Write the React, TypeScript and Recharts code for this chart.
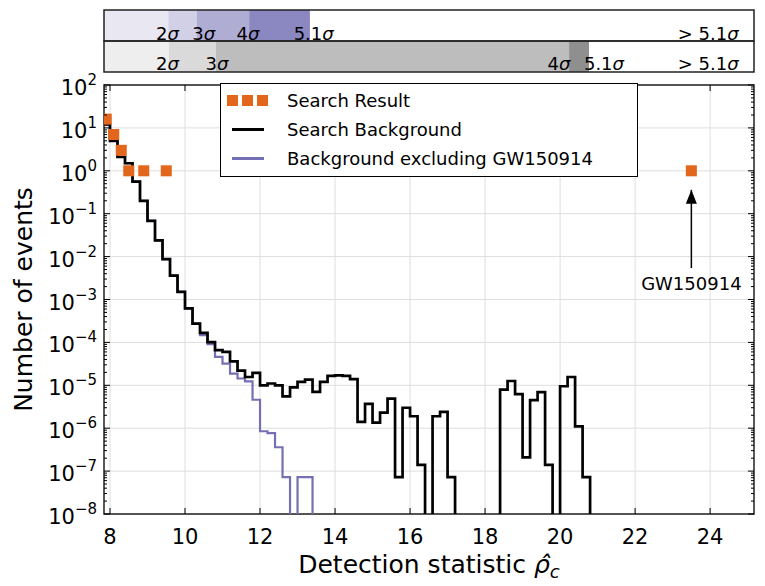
import {
  CartesianGrid,
  ComposedChart,
  Legend,
  Line,
  ReferenceArea,
  ReferenceDot,
  ReferenceLine,
  Scatter,
  XAxis,
  YAxis,
} from "recharts";

const FONT = "'DejaVu Sans', sans-serif";

const X_MIN = 7.84;
const X_MAX = 25.17;
const Y_MIN = 1e-8;
const Y_MAX = 1e2;

// histogram bins: width 0.2, first bin starts at 7.8; 0 = empty bin
const BIN_START = 7.8;
const BIN_WIDTH = 0.2;
const BELOW_AXIS = 1e-12;

const searchBackground = [
  12, 5, 2.1, 1.5, 0.56, 0.2, 0.068, 0.024, 0.0087, 0.0036,
  0.0015, 6.2e-4, 2.75e-4, 1.66e-4, 1.02e-4, 6.6e-5, 6.0e-5, 3.6e-5, 2.2e-5, 1.56e-5,
  1.94e-5, 1.0e-5, 1.1e-5, 1.0e-5, 5.5e-6, 8.9e-6, 1.2e-5, 1.35e-5, 7e-6, 1.2e-5,
  1.65e-5, 1.7e-5, 1.65e-5, 1.4e-5, 1.4e-6, 3.7e-6, 1.35e-6, 2.3e-6, 4.9e-6, 7.2e-8,
  3.0e-6, 1.9e-6, 1.4e-7, 0, 1.9e-6, 2.4e-6, 7.2e-8, 0, 0, 0,
  0, 0, 0, 7.9e-6, 1.26e-5, 6.2e-6, 2.1e-7, 4.5e-6, 6.9e-6, 1.4e-7,
  0, 9.5e-6, 1.56e-5, 1.1e-6, 7.2e-8,
];

const backgroundNoGW = [
  12, 5, 2.1, 1.5, 0.56, 0.2, 0.068, 0.024, 0.0087, 0.0036,
  0.0015, 6.2e-4, 2.75e-4, 1.48e-4, 9.1e-5, 4.6e-5, 3.2e-5, 1.87e-5, 1.44e-5, 1.23e-5,
  4.6e-6, 8.5e-7, 7.7e-7, 3.6e-7, 7.2e-8, 0, 7.2e-8, 7.2e-8,
];

const resultX = [7.9, 8.1, 8.3, 8.5, 8.9, 9.5, 23.5];
const resultCount = [16, 7, 3, 1, 1, 1, 1];

const xTicks = [8, 10, 12, 14, 16, 18, 20, 22, 24];
const yExponents = [2, 1, 0, -1, -2, -3, -4, -5, -6, -7, -8];

// significance thresholds on the statistic (top bands)
const sigmaNoGW = [9.555, 10.31, 11.71, 13.33];
const sigmaFull = [9.57, 10.82, 20.24, 20.77];
const bandPurples = ["#e8e7f2", "#d2d0e7", "#b0add5", "#8b87c1"];
const bandGreys = ["#eeeeee", "#dadada", "#bdbdbd", "#8f8f8f"];

const upperLabels = [
  { x: 9.53, text: "2" },
  { x: 10.5, text: "3" },
  { x: 11.68, text: "4" },
  { x: 13.43, text: "5.1" },
  { x: 23.95, text: "> 5.1" },
];
const lowerLabels = [
  { x: 9.53, text: "2" },
  { x: 10.85, text: "3" },
  { x: 19.97, text: "4" },
  { x: 21.17, text: "5.1" },
  { x: 23.95, text: "> 5.1" },
];

const GW_X = 23.5;
const GW_ARROW_TAIL = 5.4e-3;
const GW_ARROW_TIP = 0.36;
const GW_TEXT_Y = 2.4e-3;

const PURPLE = "#7570b3";
const ORANGE = "#e2661c";

const decades = yExponents.map((e) => Math.pow(10, e));
const yTicks = [
  ...decades,
  ...yExponents.slice(1).flatMap((e) => [2, 3, 4, 5, 6, 7, 8, 9].map((m) => m * Math.pow(10, e))),
];

function stepPoints(counts: number[]) {
  const pts = counts.map((c, i) => ({
    x: +(BIN_START + i * BIN_WIDTH).toFixed(2),
    count: c > 0 ? c : BELOW_AXIS,
  }));
  pts.push({ x: +(BIN_START + counts.length * BIN_WIDTH).toFixed(2), count: BELOW_AXIS });
  return pts;
}

const results = resultX.map((x, i) => ({ x, count: resultCount[i] }));

function isDecade(v: number) {
  const l = Math.log10(v);
  return Math.abs(l - Math.round(l)) < 1e-9;
}

function LeftTick({ x, y, payload }: any) {
  const v = payload.value;
  if (!isDecade(v)) {
    return <line x1={x} x2={x + 3} y1={y} y2={y} stroke="#000" strokeWidth={1} />;
  }
  const e = Math.round(Math.log10(v));
  return (
    <g>
      <line x1={x} x2={x + 6} y1={y} y2={y} stroke="#000" strokeWidth={1} />
      <text x={x - 7} y={y + 10} textAnchor="end" fontSize={21} fontFamily={FONT} fill="#000">
        10
        <tspan dy={-10} fontSize={15}>
          {e < 0 ? `\u2212${-e}` : e}
        </tspan>
      </text>
    </g>
  );
}

function RightTick({ x, y, payload }: any) {
  const len = isDecade(payload.value) ? 6 : 3;
  return <line x1={x} x2={x - len} y1={y} y2={y} stroke="#000" strokeWidth={1} />;
}

function BottomTick({ x, y, payload }: any) {
  return (
    <g>
      <line x1={x} x2={x} y1={y} y2={y - 6} stroke="#000" strokeWidth={1} />
      <text x={x} y={y + 30} textAnchor="middle" fontSize={21} fontFamily={FONT} fill="#000">
        {payload.value}
      </text>
    </g>
  );
}

function TopTick({ x, y }: any) {
  return <line x1={x} x2={x} y1={y} y2={y + 6} stroke="#000" strokeWidth={1} />;
}

function XTitle({ viewBox }: any) {
  const cx = viewBox.x + viewBox.width / 2;
  return (
    <text x={cx} y={viewBox.y + 59} textAnchor="middle" fontSize={25} fontFamily={FONT} fill="#000">
      Detection statistic{" "}
      <tspan fontStyle="italic">{"\u03c1\u0302"}</tspan>
      <tspan fontStyle="italic" fontSize={18} dy={5}>
        c
      </tspan>
    </text>
  );
}

function YTitle({ viewBox }: any) {
  const cy = viewBox.y + viewBox.height / 2;
  const bx = 32;
  return (
    <text
      x={bx}
      y={cy}
      transform={`rotate(-90, ${bx}, ${cy})`}
      textAnchor="middle"
      fontSize={25}
      fontFamily={FONT}
      fill="#000"
    >
      Number of events
    </text>
  );
}

function LegendBox() {
  const row = { display: "flex", alignItems: "center", height: 29 } as const;
  const marker = { width: 60, display: "flex", alignItems: "center" } as const;
  const sq = { width: 11, height: 11, background: ORANGE, marginRight: 4 };
  return (
    <div
      style={{
        width: 418,
        height: 94,
        boxSizing: "border-box",
        border: "1.5px solid #000",
        background: "#fff",
        fontFamily: FONT,
        fontSize: 18,
        color: "#000",
        padding: "2px 0 0 6px",
      }}
    >
      <div style={row}>
        <div style={marker}>
          <div style={sq} />
          <div style={sq} />
          <div style={sq} />
        </div>
        <span>Search Result</span>
      </div>
      <div style={row}>
        <div style={marker}>
          <div style={{ marginLeft: 5, width: 32, height: 3, background: "#000" }} />
        </div>
        <span>Search Background</span>
      </div>
      <div style={row}>
        <div style={marker}>
          <div style={{ marginLeft: 5, width: 32, height: 3, background: PURPLE }} />
        </div>
        <span>Background excluding GW150914</span>
      </div>
    </div>
  );
}

function SigmaText({ cx, cy, payload }: any) {
  return (
    <text x={cx} y={cy} textAnchor="middle" dominantBaseline="central" fontSize={18} fontFamily={FONT} fill="#000">
      {payload.text}
      <tspan fontStyle="italic">{"\u03c3"}</tspan>
    </text>
  );
}

function SigmaBands() {
  const upperEdges = [X_MIN, ...sigmaNoGW];
  const lowerEdges = [X_MIN, ...sigmaFull];
  return (
    <ComposedChart width={765} height={80} margin={{ top: 10, right: 11, bottom: 8, left: 104 }}>
      <XAxis dataKey="x" type="number" domain={[X_MIN, X_MAX]} allowDataOverflow hide />
      <YAxis type="number" domain={[0, 2]} allowDataOverflow hide />
      {bandPurples.map((c, i) => (
        <ReferenceArea key={`p${i}`} x1={upperEdges[i]} x2={upperEdges[i + 1]} y1={1} y2={2} fill={c} fillOpacity={1} stroke="none" />
      ))}
      {bandGreys.map((c, i) => (
        <ReferenceArea key={`g${i}`} x1={lowerEdges[i]} x2={lowerEdges[i + 1]} y1={0} y2={1} fill={c} fillOpacity={1} stroke="none" />
      ))}
      <ReferenceArea x1={X_MIN} x2={X_MAX} y1={1} y2={2} fill="none" stroke="#222" strokeWidth={1.5} />
      <ReferenceArea x1={X_MIN} x2={X_MAX} y1={0} y2={1} fill="none" stroke="#222" strokeWidth={1.5} />
      <Scatter
        data={upperLabels.map((l) => ({ ...l, y: 1.25 }))}
        dataKey="y"
        shape={(p: any) => <SigmaText {...p} />}
        isAnimationActive={false}
      />
      <Scatter
        data={lowerLabels.map((l) => ({ ...l, y: 0.28 }))}
        dataKey="y"
        shape={(p: any) => <SigmaText {...p} />}
        isAnimationActive={false}
      />
    </ComposedChart>
  );
}

function MainChart() {
  return (
    <ComposedChart width={765} height={586} margin={{ top: 84, right: 10, bottom: 0, left: 0 }}>
      <CartesianGrid stroke="#dedede" strokeWidth={1} horizontalValues={decades} verticalValues={xTicks} />
      <XAxis
        dataKey="x"
        type="number"
        domain={[X_MIN, X_MAX]}
        allowDataOverflow
        ticks={xTicks}
        interval={0}
        height={72}
        axisLine={false}
        tickLine={false}
        tickSize={0}
        tickMargin={0}
        tick={<BottomTick />}
        label={<XTitle />}
      />
      <XAxis
        xAxisId="top"
        orientation="top"
        dataKey="x"
        type="number"
        domain={[X_MIN, X_MAX]}
        allowDataOverflow
        ticks={xTicks}
        interval={0}
        height={1}
        axisLine={false}
        tickLine={false}
        tickSize={0}
        tickMargin={0}
        tick={<TopTick />}
      />
      <YAxis
        type="number"
        scale="log"
        domain={[Y_MIN, Y_MAX]}
        allowDataOverflow
        ticks={yTicks}
        interval={0}
        width={104}
        axisLine={false}
        tickLine={false}
        tickSize={0}
        tickMargin={0}
        tick={<LeftTick />}
        label={<YTitle />}
      />
      <YAxis
        yAxisId="right"
        orientation="right"
        type="number"
        scale="log"
        domain={[Y_MIN, Y_MAX]}
        allowDataOverflow
        ticks={yTicks}
        interval={0}
        width={1}
        axisLine={false}
        tickLine={false}
        tickSize={0}
        tickMargin={0}
        tick={<RightTick />}
      />
      <Line
        data={stepPoints(backgroundNoGW)}
        dataKey="count"
        type="stepAfter"
        stroke={PURPLE}
        strokeWidth={2.2}
        dot={false}
        isAnimationActive={false}
      />
      <Line
        data={stepPoints(searchBackground)}
        dataKey="count"
        type="stepAfter"
        stroke="#000"
        strokeWidth={2.7}
        dot={false}
        isAnimationActive={false}
      />
      <Scatter
        data={results}
        dataKey="count"
        fill={ORANGE}
        shape={(p: any) => <rect x={p.cx - 5.5} y={p.cy - 5.5} width={11} height={11} fill={ORANGE} />}
        isAnimationActive={false}
      />
      <ReferenceLine
        segment={[
          { x: GW_X, y: GW_ARROW_TAIL },
          { x: GW_X, y: GW_ARROW_TIP },
        ]}
        stroke="#000"
        strokeWidth={1.5}
      />
      <ReferenceDot
        x={GW_X}
        y={GW_ARROW_TIP}
        shape={(p: any) => <path d={`M${p.cx},${p.cy} l-5.5,14 l11,0 z`} fill="#000" />}
      />
      <ReferenceDot
        x={GW_X}
        y={GW_TEXT_Y}
        shape={(p: any) => (
          <text x={p.cx} y={p.cy} textAnchor="middle" dominantBaseline="central" fontSize={18} fontFamily={FONT} fill="#000">
            GW150914
          </text>
        )}
      />
      <ReferenceArea x1={X_MIN} x2={X_MAX} y1={Y_MIN} y2={Y_MAX} fill="none" stroke="#222" strokeWidth={1.5} />
      <Legend
        layout="horizontal"
        verticalAlign="middle"
        align="center"
        wrapperStyle={{ top: 83, left: 220, width: 418, height: 94 }}
        content={() => <LegendBox />}
      />
    </ComposedChart>
  );
}

export default function App() {
  return (
    <div style={{ position: "absolute", left: 0, top: 0, width: 765, height: 586, background: "#fff" }}>
      <div style={{ position: "absolute", left: 0, top: 0 }}>
        <MainChart />
      </div>
      <div style={{ position: "absolute", left: 0, top: 0 }}>
        <SigmaBands />
      </div>
    </div>
  );
}
